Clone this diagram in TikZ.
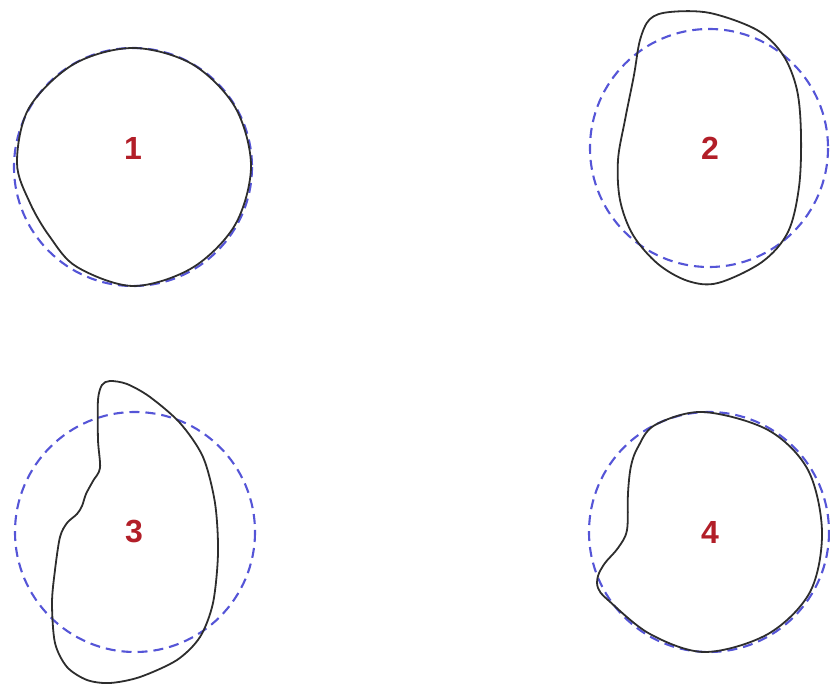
\documentclass[tikz,border=0pt]{standalone}
\usepackage{fontspec}
\setsansfont{Liberation Sans}
\definecolor{dashblue}{RGB}{85,85,215}
\definecolor{curvegray}{RGB}{45,45,45}
\definecolor{labelred}{RGB}{178,30,40}
\begin{document}
\begin{tikzpicture}[x=1pt,y=-1pt,
  refcircle/.style={draw=dashblue,line width=2.1pt,dash pattern=on 10pt off 6pt},
  outline/.style={draw=curvegray,line width=1.8pt},
  numlabel/.style={text=labelred,font=\sffamily\bfseries\fontsize{32}{32}\selectfont,inner sep=0pt}]
\useasboundingbox (0,0) rectangle (830,684);
% panel 1
\draw[refcircle] (133,167) circle[radius=119];
\draw[outline] plot[smooth cycle,tension=0.55] coordinates {(251,166) (235,225) (192,268) (133,286) (77,267) (50,237) (30,203) (17,163) (29,108) (74,64) (133,48) (192,64) (235,107)};
\node[numlabel] (n1) at (133,148) {1};
% panel 2
\draw[refcircle] (709,148) circle[radius=119];
\draw[outline] plot[smooth cycle,tension=0.55] coordinates {(640,40) (650,19) (670,12) (710,13) (757,30) (783,55) (797,90) (801,135) (799,187) (788,232) (762,262) (718,283) (688,281) (658,264) (633,235) (620,200) (618,160) (625,120) (634,75)};
\node[numlabel] (n2) at (710,148) {2};
% panel 3
\draw[refcircle] (135,532) circle[radius=120];
\draw[outline] plot[smooth cycle,tension=0.5] coordinates {(110,381) (127,384) (150,397) (180,423) (203,457) (215,503) (218,553) (213,603) (200,637) (177,660) (140,677) (110,683) (87,680) (67,667) (55,643) (52,603) (55,570) (60,537) (67,523) (77,514) (82,506) (86,494) (93,481) (100,468) (98,440) (98,400) (102,385)};
\node[numlabel] (n3) at (134,532) {3};
% panel 4
\draw[refcircle] (709,532) circle[radius=120];
\draw[outline] plot[smooth cycle,tension=0.55] coordinates {(655,425) (703,412) (768,430) (808,470) (822,532) (810,592) (768,634) (705,652) (650,634) (608,600) (598,588) (598,576) (605,563) (618,548) (627,530) (628,493) (631,466) (638,447)};
\node[numlabel] (n4) at (710,532) {4};
\end{tikzpicture}
\end{document}
